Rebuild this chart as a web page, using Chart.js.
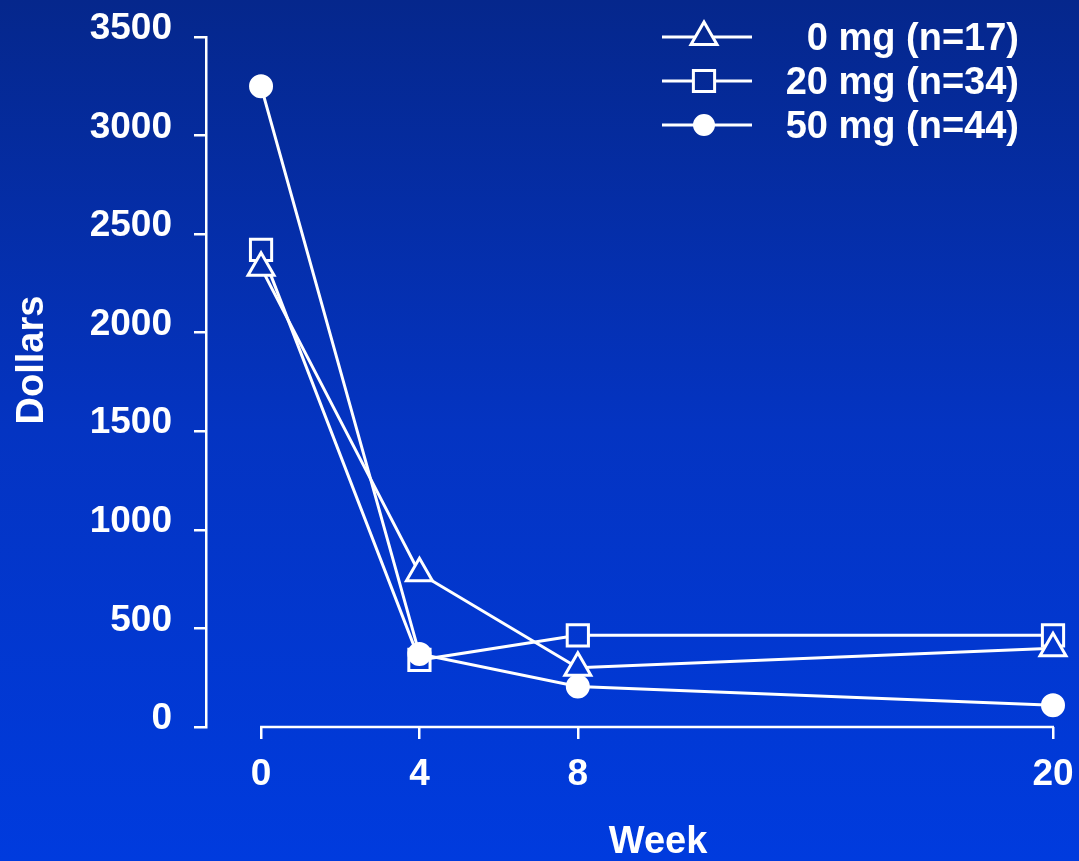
<!DOCTYPE html>
<html>
<head>
<meta charset="utf-8">
<script src="https://cdn.jsdelivr.net/npm/chart.js@4/dist/chart.umd.min.js"></script>
<style>
  html, body { margin: 0; padding: 0; background: #0433c0; }
  #wrap { width: 1079px; height: 861px; position: relative; }
  canvas { display: block; }
</style>
</head>
<body>
<div id="wrap"><canvas id="c" width="1079" height="861"></canvas></div>
<script>
// ---- data ----
const weeks = [0, 4, 8, 20];
const xTickLabels = [0, 4, 8, 20];
const yTicks = [0, 500, 1000, 1500, 2000, 2500, 3000, 3500];
const seriesLabels = ['0 mg (n=17)', '20 mg (n=34)', '50 mg (n=44)'];
const dollars0mg = [2330, 780, 300, 400];
const dollars20mg = [2420, 340, 465, 465];
const dollars50mg = [3250, 370, 205, 110];
const xTitle = 'Week';
const yTitle = 'Dollars';

const canvas = document.getElementById('c');
const ctx = canvas.getContext('2d');
const bg = ctx.createLinearGradient(0, 0, 0, 861);
bg.addColorStop(0, '#05278c');
bg.addColorStop(0.5, '#0434c2');
bg.addColorStop(1, '#003bde');

const FONT = '"Liberation Sans", Arial, Helvetica, sans-serif';

function toXY(vals) { return weeks.map((w, i) => ({ x: w, y: vals[i] })); }

const styles = [
  { pointStyle: 'triangle', radius: 15, legendRadius: 15, fill: bg, order: 1 },
  { pointStyle: 'rect', radius: 15, legendRadius: 15, fill: bg, order: 2 },
  { pointStyle: 'circle', radius: 10.5, legendRadius: 9.5, fill: '#ffffff', order: 0 }
];
const seriesValues = [dollars0mg, dollars20mg, dollars50mg];

const datasets = seriesValues.map((vals, i) => ({
  label: seriesLabels[i],
  data: toXY(vals),
  borderColor: '#ffffff',
  borderWidth: 3,
  tension: 0,
  fill: false,
  clip: false,
  order: styles[i].order,
  pointStyle: styles[i].pointStyle,
  pointRadius: styles[i].radius,
  pointHoverRadius: styles[i].radius,
  pointBackgroundColor: styles[i].fill,
  pointBorderColor: '#ffffff',
  pointBorderWidth: 3
}));

function drawMarker(c, style, x, y, r, fill) {
  c.save();
  c.lineWidth = 3;
  c.strokeStyle = '#ffffff';
  c.fillStyle = fill;
  c.beginPath();
  if (style === 'triangle') {
    c.moveTo(x, y - r);
    c.lineTo(x + Math.sin(2 * Math.PI / 3) * r, y - Math.cos(2 * Math.PI / 3) * r);
    c.lineTo(x + Math.sin(4 * Math.PI / 3) * r, y - Math.cos(4 * Math.PI / 3) * r);
    c.closePath();
  } else if (style === 'rect') {
    const s = Math.SQRT1_2 * r;
    c.rect(x - s, y - s, 2 * s, 2 * s);
  } else {
    c.arc(x, y, r, 0, Math.PI * 2);
  }
  c.fill();
  c.stroke();
  c.restore();
}

const customPlugin = {
  id: 'custom',
  beforeDraw(chart) {
    const c = chart.ctx;
    c.save();
    c.fillStyle = bg;
    c.fillRect(0, 0, chart.width, chart.height);
    c.restore();
  },
  afterDraw(chart) {
    const c = chart.ctx;
    const xs = chart.scales.x;
    const area = chart.chartArea;
    // x axis line spanning data range only
    c.save();
    c.strokeStyle = '#ffffff';
    c.lineWidth = 2.5;
    c.beginPath();
    c.moveTo(xs.getPixelForValue(weeks[0]) - 1, area.bottom);
    c.lineTo(xs.getPixelForValue(weeks[weeks.length - 1]) + 1, area.bottom);
    c.stroke();
    // axis titles
    c.fillStyle = '#ffffff';
    c.font = 'bold 38px ' + FONT;
    c.textAlign = 'center';
    c.textBaseline = 'middle';
    c.fillText(xTitle, 658, 843);
    c.translate(33, 360);
    c.rotate(-Math.PI / 2);
    c.fillText(yTitle, 0, 0);
    c.restore();
    // legend
    c.save();
    chart.data.datasets.forEach((ds, i) => {
      const y = 37 + 44 * i;
      c.strokeStyle = '#ffffff';
      c.lineWidth = 3;
      c.beginPath();
      c.moveTo(662, y);
      c.lineTo(752, y);
      c.stroke();
      drawMarker(c, styles[i].pointStyle, 704, y, styles[i].legendRadius, styles[i].fill);
      c.fillStyle = '#ffffff';
      c.font = 'bold 38px ' + FONT;
      c.textAlign = 'right';
      c.textBaseline = 'alphabetic';
      c.fillText(ds.label, 1019, y + 13);
    });
    c.restore();
  }
};

function zeroPad(scale) {
  scale.paddingTop = 0; scale.paddingBottom = 0;
  scale.paddingLeft = 0; scale.paddingRight = 0;
}

new Chart(ctx, {
  type: 'line',
  data: { datasets },
  options: {
    responsive: false,
    animation: false,
    events: [],
    layout: { padding: { left: 0, top: 37, right: 26, bottom: 0 } },
    plugins: { legend: { display: false }, title: { display: false }, tooltip: { enabled: false } },
    scales: {
      x: {
        type: 'linear',
        min: -1.39,
        max: 20,
        afterBuildTicks(scale) { scale.ticks = xTickLabels.map(v => ({ value: v })); },
        afterFit(scale) { scale.height = 134; zeroPad(scale); },
        border: { display: false },
        grid: { display: true, drawOnChartArea: false, drawTicks: true, tickLength: 12, color: '#ffffff', lineWidth: 2.5 },
        ticks: { color: '#ffffff', font: { family: FONT, size: 37, weight: 'bold' }, padding: 14, maxRotation: 0, autoSkip: false,
                 callback: v => String(v) }
      },
      y: {
        type: 'linear',
        min: 0,
        max: 3500,
        afterBuildTicks(scale) { scale.ticks = yTicks.map(v => ({ value: v })); },
        afterFit(scale) { scale.width = 206; zeroPad(scale); },
        border: { display: true, color: '#ffffff', width: 2.5 },
        grid: { display: true, drawOnChartArea: false, drawTicks: true, tickLength: 12, color: '#ffffff', lineWidth: 2.5 },
        ticks: { color: '#ffffff', font: { family: FONT, size: 37, weight: 'bold' }, padding: 22, labelOffset: -8, autoSkip: false,
                 callback: v => String(v) }
      }
    }
  },
  plugins: [customPlugin]
});
</script>
</body>
</html>
